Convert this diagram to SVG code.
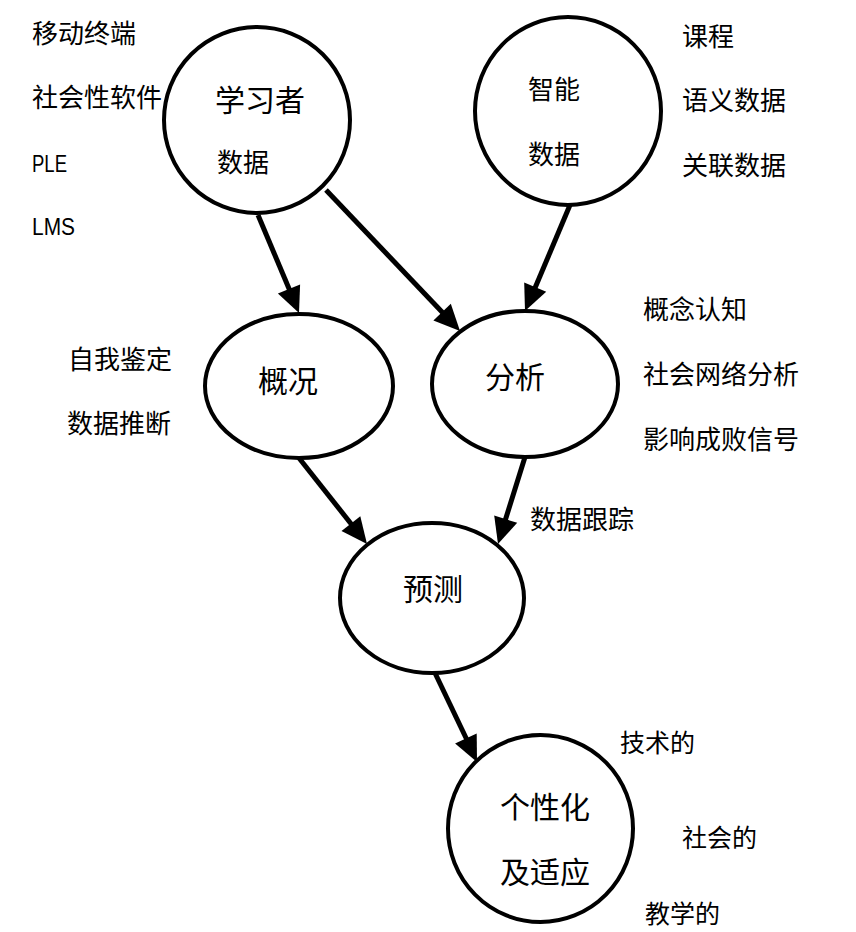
<svg xmlns="http://www.w3.org/2000/svg" width="856" height="932" viewBox="0 0 856 932">
<style>
.n{fill:#fff;stroke:#000;stroke-width:4}
.t{font-family:"Noto Sans CJK SC","Liberation Sans",sans-serif;fill:#000;font-size:26px}
.big{font-size:30px}
.lat{font-family:"Liberation Sans",Arial,sans-serif;font-size:23px;fill:#000}
.c line{stroke:#000;stroke-width:5}
.c polygon{fill:#000}
</style>
<rect width="856" height="932" fill="#fff"/>
<g id="labels">
<text class="t" x="32" y="43">移动终端</text>
<text class="t" x="32" y="107">社会性软件</text>
<text class="lat" x="32" y="172" textLength="35" lengthAdjust="spacingAndGlyphs">PLE</text>
<text class="lat" x="32" y="235" textLength="43" lengthAdjust="spacingAndGlyphs">LMS</text>
<text class="t" x="682" y="46">课程</text>
<text class="t" x="682" y="110">语义数据</text>
<text class="t" x="682" y="175">关联数据</text>
<text class="t" x="68" y="369">自我鉴定</text>
<text class="t" x="67" y="433">数据推断</text>
<text class="t" x="643" y="319">概念认知</text>
<text class="t" x="643" y="384">社会网络分析</text>
<text class="t" x="643" y="449">影响成败信号</text>
<text class="t" x="530" y="529">数据跟踪</text>
<text class="t" x="620" y="752" style="font-size:25px">技术的</text>
<text class="t" x="682" y="847" style="font-size:25px">社会的</text>
<text class="t" x="645" y="923" style="font-size:25px">教学的</text>
</g>
<g id="connectors" class="c">
<line x1="258" y1="215" x2="290" y2="291"/>
<polygon points="299,313 277.9,293.6 300.1,284.4"/>
<line x1="326" y1="190" x2="443" y2="313"/>
<polygon points="460,331 433.4,320.4 450.8,303.8"/>
<line x1="570" y1="205" x2="535" y2="288"/>
<polygon points="525,311 524.2,282.4 546.2,291.8"/>
<line x1="299" y1="458" x2="352" y2="525"/>
<polygon points="367,544 341.5,531 360.3,516.2"/>
<line x1="525" y1="457" x2="505" y2="521"/>
<polygon points="498,544 494.2,515.6 517.2,522.8"/>
<line x1="435" y1="673" x2="467" y2="740"/>
<polygon points="477,762 455.1,743.6 476.7,733.4"/>
</g>
<g id="learner">
<ellipse class="n" cx="257" cy="120" rx="93" ry="93"/>
<text class="t big" x="215" y="111">学习者</text>
<text class="t" x="217" y="172">数据</text>
</g>
<g id="smart">
<ellipse class="n" cx="568" cy="111" rx="93" ry="94"/>
<text class="t" x="528" y="99">智能</text>
<text class="t" x="528" y="164">数据</text>
</g>
<g id="profile">
<ellipse class="n" cx="299" cy="386" rx="94" ry="72"/>
<text class="t big" x="258" y="392">概况</text>
</g>
<g id="analysis">
<ellipse class="n" cx="525" cy="384" rx="93" ry="73"/>
<text class="t big" x="485" y="388">分析</text>
</g>
<g id="predict">
<ellipse class="n" cx="432" cy="598" rx="92" ry="75"/>
<text class="t big" x="403" y="600">预测</text>
</g>
<g id="personal">
<ellipse class="n" cx="540.5" cy="828.5" rx="92.5" ry="93.5"/>
<text class="t big" x="500" y="818">个性化</text>
<text class="t big" x="500" y="883">及适应</text>
</g>
</svg>
